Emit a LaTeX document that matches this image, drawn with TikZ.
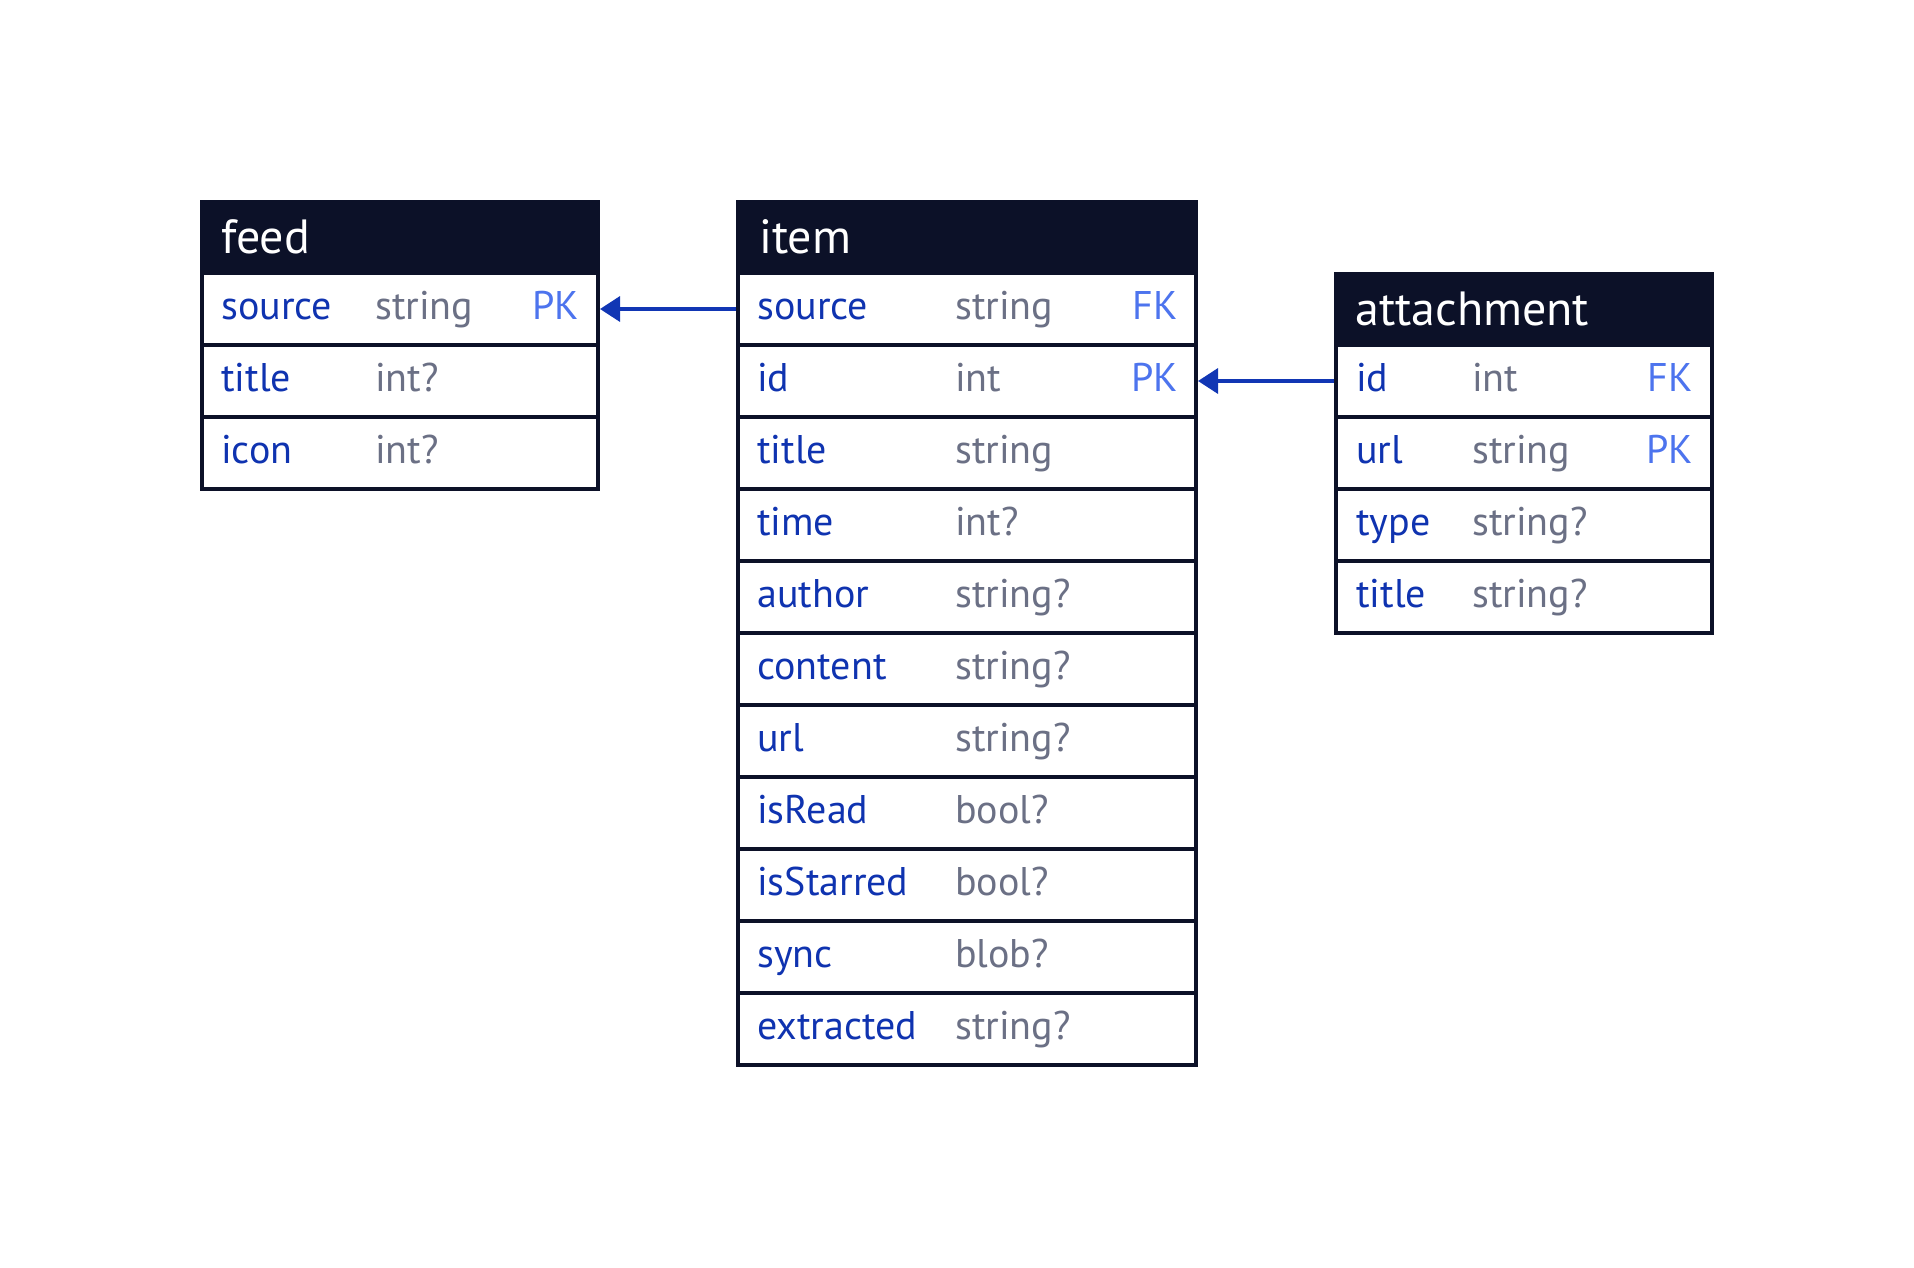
\documentclass[tikz,border=0pt]{standalone}
\usepackage{fontspec}
\setmainfont{PT Sans}
\usetikzlibrary{arrows.meta}
\definecolor{navy}{HTML}{0C1128}
\definecolor{fieldblue}{HTML}{0F33B0}
\definecolor{typegray}{HTML}{6B7085}
\definecolor{keyblue}{HTML}{4D74EE}
\definecolor{linkblue}{HTML}{1136B4}

\begin{document}
\begin{tikzpicture}[x=1pt,y=1pt,
  head/.style={draw=navy,fill=navy,line width=4pt,minimum height=71pt},
  row/.style={draw=navy,fill=white,line width=4pt,minimum height=72pt},
  title/.style={anchor=base west,text=white,font=\fontsize{48}{56}\selectfont},
  fname/.style={anchor=base west,text=fieldblue,font=\fontsize{40}{48}\selectfont},
  ftype/.style={anchor=base west,text=typegray,font=\fontsize{40}{48}\selectfont},
  fkey/.style={anchor=base east,text=keyblue,font=\fontsize{40}{48}\selectfont},
  link/.style={draw=linkblue,line width=3.5pt,-{Triangle[length=20pt,width=25pt]}}]
\tikzstyle{every node}+=[inner sep=0pt]
\useasboundingbox (0,0) rectangle (1914,-1268);
% feed
\node [head,minimum width=396pt] (feed) at (400,-237.5) {};
\node [title] (feed-n) at (221,-253) {feed};
\node [row,minimum width=396pt] (feed-source) at (400,-309) {};
\node [fname] at (221,-319) {source};
\node [ftype] at (375,-319) {string};
\node [fkey] at (579,-319) {PK};
\node [row,minimum width=396pt] (feed-title) at (400,-381) {};
\node [fname] at (221,-391) {title};
\node [ftype] at (375,-391) {int?};
\node [row,minimum width=396pt] (feed-icon) at (400,-453) {};
\node [fname] at (221,-463) {icon};
\node [ftype] at (375,-463) {int?};
% item
\node [head,minimum width=458pt] (item) at (967,-237.5) {};
\node [title] (item-n) at (759,-253) {item};
\node [row,minimum width=458pt] (item-source) at (967,-309) {};
\node [fname] at (757,-319) {source};
\node [ftype] at (955,-319) {string};
\node [fkey] at (1178,-319) {FK};
\node [row,minimum width=458pt] (item-id) at (967,-381) {};
\node [fname] at (757,-391) {id};
\node [ftype] at (955,-391) {int};
\node [fkey] at (1178,-391) {PK};
\node [row,minimum width=458pt] (item-title) at (967,-453) {};
\node [fname] at (757,-463) {title};
\node [ftype] at (955,-463) {string};
\node [row,minimum width=458pt] (item-time) at (967,-525) {};
\node [fname] at (757,-535) {time};
\node [ftype] at (955,-535) {int?};
\node [row,minimum width=458pt] (item-author) at (967,-597) {};
\node [fname] at (757,-607) {author};
\node [ftype] at (955,-607) {string?};
\node [row,minimum width=458pt] (item-content) at (967,-669) {};
\node [fname] at (757,-679) {content};
\node [ftype] at (955,-679) {string?};
\node [row,minimum width=458pt] (item-url) at (967,-741) {};
\node [fname] at (757,-751) {url};
\node [ftype] at (955,-751) {string?};
\node [row,minimum width=458pt] (item-isread) at (967,-813) {};
\node [fname] at (757,-823) {isRead};
\node [ftype] at (955,-823) {bool?};
\node [row,minimum width=458pt] (item-isstarred) at (967,-885) {};
\node [fname] at (757,-895) {isStarred};
\node [ftype] at (955,-895) {bool?};
\node [row,minimum width=458pt] (item-sync) at (967,-957) {};
\node [fname] at (757,-967) {sync};
\node [ftype] at (955,-967) {blob?};
\node [row,minimum width=458pt] (item-extracted) at (967,-1029) {};
\node [fname] at (757,-1039) {extracted};
\node [ftype] at (955,-1039) {string?};
% attachment
\node [head,minimum width=376pt] (att) at (1524,-309.5) {};
\node [title] (att-n) at (1355,-325) {attachment};
\node [row,minimum width=376pt] (att-id) at (1524,-381) {};
\node [fname] at (1356,-391) {id};
\node [ftype] at (1472,-391) {int};
\node [fkey] at (1693,-391) {FK};
\node [row,minimum width=376pt] (att-url) at (1524,-453) {};
\node [fname] at (1356,-463) {url};
\node [ftype] at (1472,-463) {string};
\node [fkey] at (1693,-463) {PK};
\node [row,minimum width=376pt] (att-type) at (1524,-525) {};
\node [fname] at (1356,-535) {type};
\node [ftype] at (1472,-535) {string?};
\node [row,minimum width=376pt] (att-title) at (1524,-597) {};
\node [fname] at (1356,-607) {title};
\node [ftype] at (1472,-607) {string?};
% links
\draw [link] (item-source.west) -- (feed-source.east);
\draw [link] (att-id.west) -- (item-id.east);
\end{tikzpicture}
\end{document}
